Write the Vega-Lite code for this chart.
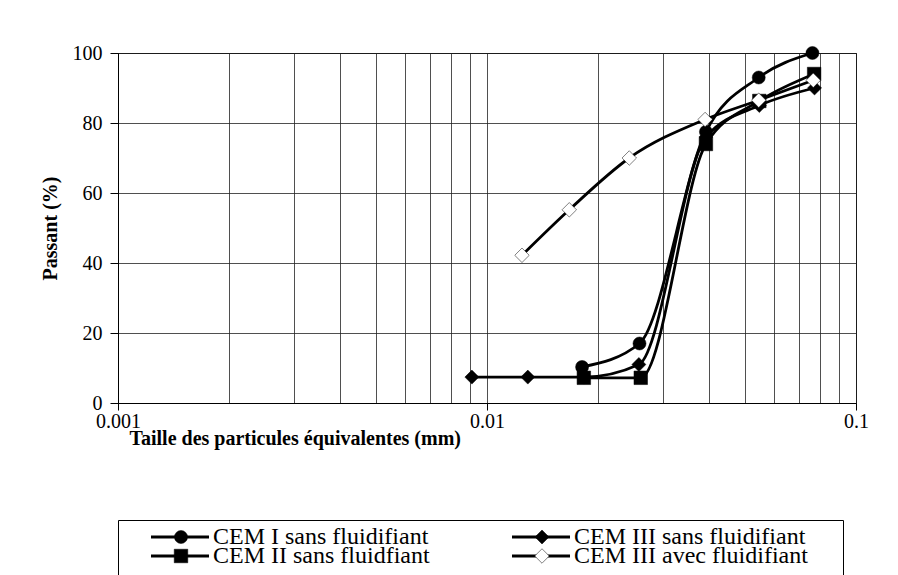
{
  "$schema": "https://vega.github.io/schema/vega-lite/v6.json",
  "background": "white",
  "padding": {"left": 39, "top": 42, "right": 0, "bottom": 0},
  "spacing": 70,
  "config": {
    "font": "Liberation Serif",
    "text": {"font": "Liberation Serif"},
    "view": {"stroke": "#000", "strokeWidth": 1},
    "axis": {"domainColor": "#000", "tickColor": "#000", "labelColor": "#000", "titleColor": "#000", "gridColor": "#222", "gridWidth": 0.8, "labelFlush": false, "labelOverlap": false}
  },
  "datasets": {
    "pts": [
      {"serie": "CEM I sans fluidifiant", "taille": 0.0181, "passant": 10.3},
      {"serie": "CEM I sans fluidifiant", "taille": 0.0259, "passant": 17},
      {"serie": "CEM I sans fluidifiant", "taille": 0.0392, "passant": 77.5},
      {"serie": "CEM I sans fluidifiant", "taille": 0.0545, "passant": 93},
      {"serie": "CEM I sans fluidifiant", "taille": 0.0762, "passant": 100},
      {"serie": "CEM II sans fluidfiant", "taille": 0.0183, "passant": 7.2},
      {"serie": "CEM II sans fluidfiant", "taille": 0.0261, "passant": 7.2},
      {"serie": "CEM II sans fluidfiant", "taille": 0.0392, "passant": 74},
      {"serie": "CEM II sans fluidfiant", "taille": 0.0547, "passant": 86.3},
      {"serie": "CEM II sans fluidfiant", "taille": 0.077, "passant": 94},
      {"serie": "CEM III sans fluidifiant", "taille": 0.0091, "passant": 7.4},
      {"serie": "CEM III sans fluidifiant", "taille": 0.0129, "passant": 7.4},
      {"serie": "CEM III sans fluidifiant", "taille": 0.0183, "passant": 7.4},
      {"serie": "CEM III sans fluidifiant", "taille": 0.0258, "passant": 11},
      {"serie": "CEM III sans fluidifiant", "taille": 0.0392, "passant": 76},
      {"serie": "CEM III sans fluidifiant", "taille": 0.0547, "passant": 85},
      {"serie": "CEM III sans fluidifiant", "taille": 0.0772, "passant": 90},
      {"serie": "CEM III avec fluidifiant", "taille": 0.01244, "passant": 42.2},
      {"serie": "CEM III avec fluidifiant", "taille": 0.01671, "passant": 55.2},
      {"serie": "CEM III avec fluidifiant", "taille": 0.0243, "passant": 70},
      {"serie": "CEM III avec fluidifiant", "taille": 0.039, "passant": 81},
      {"serie": "CEM III avec fluidifiant", "taille": 0.0545, "passant": 86.5},
      {"serie": "CEM III avec fluidifiant", "taille": 0.0766, "passant": 92.2}
    ],
    "leg": [
      {"serie": "CEM I sans fluidifiant", "col": 0, "row": 0},
      {"serie": "CEM III sans fluidifiant", "col": 1, "row": 0},
      {"serie": "CEM II sans fluidfiant", "col": 0, "row": 1},
      {"serie": "CEM III avec fluidifiant", "col": 1, "row": 1}
    ]
  },
  "vconcat": [
    {
      "width": 738,
      "height": 350,
      "data": {"name": "pts"},
      "encoding": {
        "x": {
          "field": "taille", "type": "quantitative",
          "scale": {"type": "log", "domain": [0.001, 0.1], "nice": false},
          "axis": {
            "title": "Taille des particules équivalentes (mm)",
            "values": [0.001, 0.002, 0.003, 0.004, 0.005, 0.006, 0.007, 0.008, 0.009, 0.01, 0.02, 0.03, 0.04, 0.05, 0.06, 0.07, 0.08, 0.09, 0.1],
            "format": "~g",
            "labelExpr": "datum.value == 0.001 || datum.value == 0.01 || datum.value == 0.1 ? datum.label : ''",
            "grid": true,
            "tickSize": 7,
            "tickOpacity": {"condition": {"test": "datum.value == 0.001 || datum.value == 0.01 || datum.value == 0.1", "value": 1}, "value": 0},
            "labelFontSize": 20,
            "labelPadding": 1,
            "titleFontSize": 20,
            "titleFontWeight": "bold",
            "titleAnchor": "start",
            "titleAlign": "left",
            "titleX": 11,
            "titlePadding": -3
          }
        },
        "y": {
          "field": "passant", "type": "quantitative",
          "scale": {"domain": [0, 100], "nice": false},
          "axis": {
            "title": "Passant (%)",
            "values": [0, 20, 40, 60, 80, 100],
            "grid": true,
            "tickSize": 8,
            "labelPadding": 8,
            "labelFontSize": 20,
            "titleFontSize": 20,
            "titleFontWeight": "bold",
            "titlePadding": 12
          }
        }
      },
      "layer": [
        {
          "mark": {"type": "line", "color": "#000", "strokeWidth": 2.8, "interpolate": "monotone"},
          "encoding": {"detail": {"field": "serie", "type": "nominal"}}
        },
        {
          "mark": {"type": "point", "opacity": 1, "stroke": "#000"},
          "encoding": {
            "shape": {"field": "serie", "type": "nominal", "scale": {"domain": ["CEM I sans fluidifiant", "CEM II sans fluidfiant", "CEM III sans fluidifiant", "CEM III avec fluidifiant"], "range": ["circle", "square", "diamond", "diamond"]}, "legend": null},
            "fill": {"field": "serie", "type": "nominal", "scale": {"domain": ["CEM I sans fluidifiant", "CEM II sans fluidfiant", "CEM III sans fluidifiant", "CEM III avec fluidifiant"], "range": ["#000", "#000", "#000", "#fff"]}, "legend": null},
            "size": {"field": "serie", "type": "nominal", "scale": {"domain": ["CEM I sans fluidifiant", "CEM II sans fluidfiant", "CEM III sans fluidifiant", "CEM III avec fluidifiant"], "range": [170, 210, 220, 140]}, "legend": null},
            "strokeWidth": {"field": "serie", "type": "nominal", "scale": {"domain": ["CEM I sans fluidifiant", "CEM II sans fluidfiant", "CEM III sans fluidifiant", "CEM III avec fluidifiant"], "range": [0.5, 0.5, 0.5, 2.5]}, "legend": null}
          }
        }
      ]
    },
    {
      "width": 725,
      "height": 60,
      "data": {"name": "leg"},
      "encoding": {
        "x": {"field": "col", "type": "ordinal", "scale": {"type": "point", "domain": [0, 1], "range": [63, 424], "padding": 0}, "axis": null},
        "y": {"field": "row", "type": "ordinal", "scale": {"type": "point", "domain": [0, 1], "range": [17, 36], "padding": 0}, "axis": null}
      },
      "layer": [
        {
          "mark": {"type": "rule", "color": "#000", "strokeWidth": 2.8, "xOffset": -30, "x2Offset": 28},
          "encoding": {"x2": {"field": "col"}}
        },
        {
          "mark": {"type": "point", "opacity": 1, "stroke": "#000"},
          "encoding": {
            "shape": {"field": "serie", "type": "nominal", "scale": {"domain": ["CEM I sans fluidifiant", "CEM II sans fluidfiant", "CEM III sans fluidifiant", "CEM III avec fluidifiant"], "range": ["circle", "square", "diamond", "diamond"]}, "legend": null},
            "fill": {"field": "serie", "type": "nominal", "scale": {"domain": ["CEM I sans fluidifiant", "CEM II sans fluidfiant", "CEM III sans fluidifiant", "CEM III avec fluidifiant"], "range": ["#000", "#000", "#000", "#fff"]}, "legend": null},
            "size": {"field": "serie", "type": "nominal", "scale": {"domain": ["CEM I sans fluidifiant", "CEM II sans fluidfiant", "CEM III sans fluidifiant", "CEM III avec fluidifiant"], "range": [140, 170, 180, 90]}, "legend": null},
            "strokeWidth": {"field": "serie", "type": "nominal", "scale": {"domain": ["CEM I sans fluidifiant", "CEM II sans fluidfiant", "CEM III sans fluidifiant", "CEM III avec fluidifiant"], "range": [0.5, 0.5, 0.5, 2.5]}, "legend": null}
          }
        },
        {
          "mark": {"type": "text", "align": "left", "baseline": "middle", "dx": 32, "font": "Liberation Serif", "fontSize": 24, "color": "#000"},
          "encoding": {"text": {"field": "serie", "type": "nominal"}}
        }
      ]
    }
  ]
}
